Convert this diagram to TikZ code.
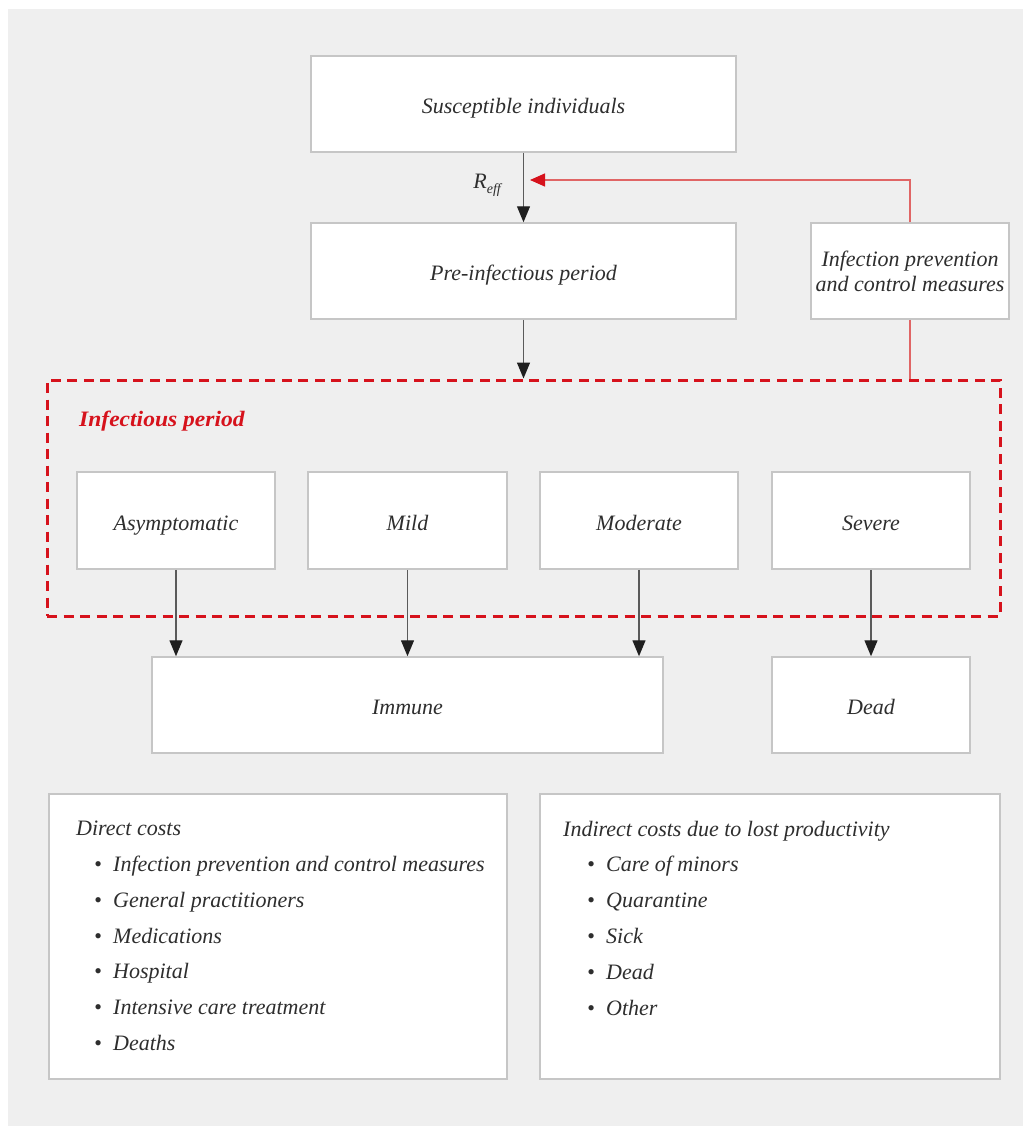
\documentclass[tikz,border=0pt]{standalone}
\usepackage{fontspec}
\setmainfont{Liberation Serif}
\usetikzlibrary{arrows.meta}
\definecolor{bgc}{HTML}{EFEFEF}
\definecolor{boxline}{HTML}{C6C6C6}
\definecolor{txt}{HTML}{2E2E2E}
\definecolor{redc}{HTML}{D6121C}
\definecolor{redl}{HTML}{E06565}
\definecolor{shaft}{HTML}{5A5A5A}
\tikzset{
  box/.style={draw=boxline, fill=white, line width=1.5pt, inner sep=0pt, text=txt,
    font=\fontsize{22}{25}\selectfont\itshape, align=center},
  onebox/.style={box, text height=19pt, text depth=0pt},
  lab/.style={inner sep=0pt, text=txt, font=\fontsize{22}{25}\selectfont\itshape, anchor=base west},
  arr/.style={draw=shaft, line width=1.3pt, -{Triangle[length=16pt,width=13pt,color=black!88]}},
  redarr/.style={draw=redl, line width=1.3pt, -{Triangle[length=15pt,width=13pt,color=redc]}},
  redthin/.style={draw=redl, line width=1.3pt},
  infbox/.style={draw=redc, line width=3pt, dash pattern=on 10pt off 6.5pt, inner sep=0pt}
}
\newcommand{\bul}{\makebox[19pt][l]{•}}
\begin{document}
\begin{tikzpicture}[x=1pt,y=-1pt]
\useasboundingbox (0,0) rectangle (1023,1126);
\fill[white] (0,0) rectangle (1023,1126);
\fill[bgc] (8,9) rectangle (1023,1126);

% main boxes
\node[onebox, minimum width=425pt, minimum height=96pt] (sus) at (523.5,104) {Susceptible individuals};
\node[onebox, minimum width=425pt, minimum height=96pt] (pre) at (523.5,271) {Pre-infectious period};
\node[box, minimum width=198pt, minimum height=96pt] (ipc) at (910,271) {Infection prevention\\and control measures};

% infectious period frame
\node[infbox, minimum width=953pt, minimum height=236pt] (inf) at (523.5,498) {};
\node[inner sep=0pt, anchor=base west, text=redc, font=\fontsize{22}{25}\selectfont\bfseries\itshape] (inflab) at (79,426) {\scalebox{1.07}[1]{Infectious period}};

\node[onebox, minimum width=198pt, minimum height=97pt] (asy) at (176,520.5) {Asymptomatic};
\node[onebox, minimum width=199pt, minimum height=97pt] (mild) at (407.5,520.5) {Mild};
\node[onebox, minimum width=198pt, minimum height=97pt] (mod) at (639,520.5) {Moderate};
\node[onebox, minimum width=198pt, minimum height=97pt] (sev) at (871,520.5) {Severe};

\node[onebox, minimum width=511pt, minimum height=96pt] (imm) at (407.5,705) {Immune};
\node[onebox, minimum width=198pt, minimum height=96pt] (dead) at (871,705) {Dead};

% cost boxes
\node[box, minimum width=458pt, minimum height=285pt] (dir) at (278,936.5) {};
\node[box, minimum width=460pt, minimum height=285pt] (ind) at (770,936.5) {};

\node[lab] (d0) at (76,835) {Direct costs};
\node[lab] (d1) at (94,871) {\bul Infection prevention and control measures};
\node[lab] (d2) at (94,907) {\bul General practitioners};
\node[lab] (d3) at (94,943) {\bul Medications};
\node[lab] (d4) at (94,978) {\bul Hospital};
\node[lab] (d5) at (94,1014) {\bul Intensive care treatment};
\node[lab] (d6) at (94,1050) {\bul Deaths};

\node[lab] (i0) at (563,836) {Indirect costs due to lost productivity};
\node[lab] (i1) at (587,871) {\bul Care of minors};
\node[lab] (i2) at (587,907) {\bul Quarantine};
\node[lab] (i3) at (587,943) {\bul Sick};
\node[lab] (i4) at (587,979) {\bul Dead};
\node[lab] (i5) at (587,1015) {\bul Other};

% R_eff label
\node[lab, anchor=base east] (reff) at (501,189) {R\raisebox{-5pt}{\fontsize{14}{14}\selectfont eff}};

% connectors
\draw[arr] (sus.south) -- (pre.north);
\draw[arr] (pre.south) -- (inf.north);
\draw[arr] (asy.south) -- (asy.south |- imm.north);
\draw[arr] (mild.south) -- (mild.south |- imm.north);
\draw[arr] (mod.south) -- (mod.south |- imm.north);
\draw[arr] (sev.south) -- (dead.north);

\coordinate (rtip) at (530,180);
\draw[redarr] (ipc.north) |- (rtip);
\draw[redthin] (ipc.south) -- (ipc.south |- inf.north);
\end{tikzpicture}
\end{document}
